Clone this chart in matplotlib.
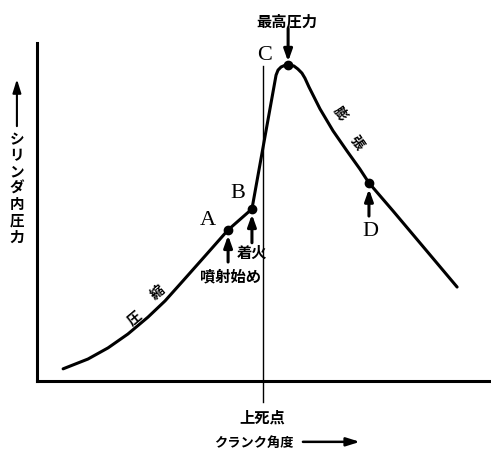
import matplotlib
matplotlib.use("Agg")
import matplotlib.pyplot as plt

plt.rcParams['font.family'] = ['Noto Sans CJK JP', 'DejaVu Sans']

# crank angle (deg, TDC = 0) and cylinder pressure (arbitrary units)
crank_angle = [-79.6, -69.7, -61.7, -53.8, -45.8, -39.0, -31.9, -22.7, -13.9, -4.4,
               5.2, 6.0, 7.2, 8.4, 10.0, 12.3, 13.9, 15.5, 16.7, 18.3,
               22.7, 27.9, 33.5, 38.6, 42.2, 51.8, 64.5, 77.3]
pressure = [3.6, 6.5, 9.8, 13.9, 18.9, 23.7, 29.6, 37.3, 44.7, 50.9,
            90.5, 92.0, 92.9, 93.3, 93.5, 93.2, 92.3, 91.1, 89.6, 87.0,
            80.5, 74.0, 68.0, 62.7, 58.6, 50.3, 39.1, 27.8]

# marked points: A (injection start), B (ignition), peak, D
point_labels = ["A", "B", "peak", "D"]
point_index = [8, 9, 14, 24]

fig = plt.figure(figsize=(4.91, 4.52), dpi=100)
ax = fig.add_axes([37/491, 70/452, 454/491, 338/452])
ax.set_xlim(-90, 90.8)
ax.set_ylim(0, 100)
for s in ["top", "right"]:
    ax.spines[s].set_visible(False)
for s in ["left", "bottom"]:
    ax.spines[s].set_linewidth(2.2)
ax.set_xticks([])
ax.set_yticks([])

ax.plot(crank_angle, pressure, color="black", lw=2.2, solid_capstyle="round",
        solid_joinstyle="round", clip_on=False)
ax.plot([crank_angle[i] for i in point_index], [pressure[i] for i in point_index],
        "o", color="black", ms=6, clip_on=False)

# TDC line
ax.plot([0, 0], [93.2, -6.2], color="black", lw=1.0, clip_on=False)

arrow = dict(arrowstyle="-|>,head_length=0.7,head_width=0.25", lw=2.2,
             color="black", shrinkA=0, shrinkB=0)
xa, ya = crank_angle[point_index[0]], pressure[point_index[0]]
xb, yb = crank_angle[point_index[1]], pressure[point_index[1]]
xp, yp = crank_angle[point_index[2]], pressure[point_index[2]]
xd, yd = crank_angle[point_index[3]], pressure[point_index[3]]
ax.annotate("", xy=(xa, ya - 1.6), xytext=(xa, ya - 9.5), arrowprops=arrow, annotation_clip=False)
ax.annotate("", xy=(xb, yb - 1.6), xytext=(xb, yb - 10.0), arrowprops=arrow, annotation_clip=False)
ax.annotate("", xy=(xp, yp + 1.0), xytext=(xp, yp + 10.8), arrowprops=arrow, annotation_clip=False)
ax.annotate("", xy=(xd, yd - 1.8), xytext=(xd, yd - 9.8), arrowprops=arrow, annotation_clip=False)

jp = dict(fontweight="bold", color="black", ha="center", va="center")
ax.text(9.6, 106.5, "最高圧力", fontsize=11, **jp)
ax.text(-4.4, 38.2, "着火", fontsize=11, **jp)
ax.text(-13.1, 31.1, "噴射始め", fontsize=11, **jp)
ax.text(-0.4, -10.4, "上死点", fontsize=11, **jp)
ax.text(-51.0, 18.9, "圧", fontsize=10, rotation=40, **jp)
ax.text(-41.8, 26.3, "縮", fontsize=10, rotation=40, **jp)
ax.text(30.5, 79.5, "膨", fontsize=10, rotation=-55, **jp)
ax.text(37.3, 70.7, "張", fontsize=10, rotation=-55, **jp)
ax.text(-3.6, -18.0, "クランク角度", fontsize=9.5, **jp)
ax.annotate("", xy=(38.6, -18.0), xytext=(15.9, -18.0),
            arrowprops=dict(arrowstyle="-|>,head_length=0.8,head_width=0.25", lw=1.8,
                            color="black", shrinkA=0, shrinkB=0), annotation_clip=False)

# vertical y label
ax.text(-98.0, 57.5, "\n".join("シリンダ内圧力"), fontsize=10.5, linespacing=1.02, **jp)
ax.annotate("", xy=(-98.0, 89.3), xytext=(-98.0, 75.4),
            arrowprops=dict(arrowstyle="-|>,head_length=0.8,head_width=0.25", lw=1.5,
                            color="black", shrinkA=0, shrinkB=0), annotation_clip=False)

serif = dict(family="Liberation Serif", fontsize=16, color="black", ha="center", va="center")
ax.text(0.8, 96.7, "C", **serif)
ax.text(-10.0, 55.9, "B", **serif)
ax.text(-21.9, 47.9, "A", **serif)
ax.text(42.6, 44.4, "D", **serif)

fig.savefig("out.png", dpi=100)
